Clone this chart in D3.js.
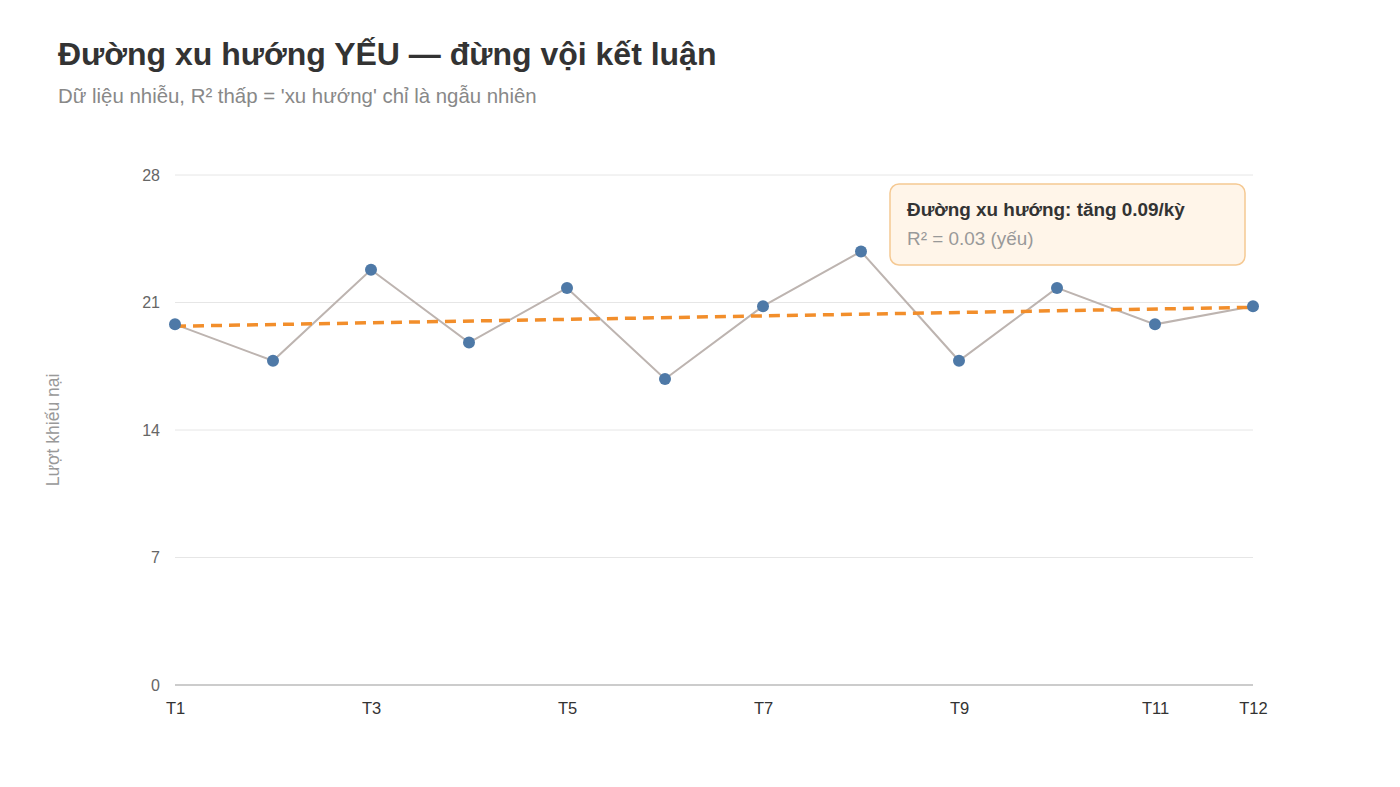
<!DOCTYPE html>
<html>
<head>
<meta charset="utf-8">
<script src="https://cdn.jsdelivr.net/npm/d3@7"></script>
<style>
  body { margin: 0; background: #fff; font-family: "Liberation Sans", Arial, sans-serif; }
</style>
</head>
<body>
<div id="chart"></div>
<script>
var periods = ["T1", "T2", "T3", "T4", "T5", "T6", "T7", "T8", "T9", "T10", "T11", "T12"];
var complaints = [19.8, 17.8, 22.8, 18.8, 21.8, 16.8, 20.8, 23.8, 17.8, 21.8, 19.8, 20.8];
var xTickLabels = ["T1", "T3", "T5", "T7", "T9", "T11", "T12"];
var yTicks = [0, 7, 14, 21, 28];

var width = 1400, height = 787;
var margin = {top: 175, right: 147, bottom: 102, left: 175};
var innerW = width - margin.left - margin.right,
    innerH = height - margin.top - margin.bottom;

var svg = d3.select("#chart")
    .append("svg")
        .attr("width", width)
        .attr("height", height);

svg.append("text")
    .attr("x", 58).attr("y", 65)
    .style("font-size", "32px").style("font-weight", "bold").attr("fill", "#333")
    .text("Đường xu hướng YẾU — đừng vội kết luận");

svg.append("text")
    .attr("x", 58).attr("y", 103)
    .style("font-size", "20.4px").attr("fill", "#888")
    .text("Dữ liệu nhiễu, R² thấp = 'xu hướng' chỉ là ngẫu nhiên");

var g = svg.append("g")
    .attr("transform", "translate(" + margin.left + "," + margin.top + ")");

var x = d3.scalePoint()
    .domain(periods)
    .range([0, innerW]);

var y = d3.scaleLinear()
    .domain([0, 28])
    .range([innerH, 0]);

// grid
g.selectAll(".grid")
    .data(yTicks.filter(function(d) { return d > 0; }))
    .enter()
    .append("line")
        .attr("x1", 0).attr("x2", innerW)
        .attr("y1", function(d) { return y(d); })
        .attr("y2", function(d) { return y(d); })
        .attr("stroke", "#e6e6e6").attr("stroke-width", 1);

g.append("line")
    .attr("x1", 0).attr("x2", innerW)
    .attr("y1", y(0)).attr("y2", y(0))
    .attr("stroke", "#cccccc").attr("stroke-width", 2);

// y axis labels
var yAxis = g.append("g")
    .call(d3.axisLeft(y).tickValues(yTicks).tickSize(0).tickPadding(15));
yAxis.select(".domain").remove();
yAxis.selectAll("text")
    .style("font-size", "16px").style("font-family", "Liberation Sans, Arial, sans-serif")
    .attr("fill", "#666");

// x axis labels
var xAxis = g.append("g")
    .attr("transform", "translate(0," + innerH + ")")
    .call(d3.axisBottom(x).tickValues(xTickLabels).tickSize(0).tickPadding(17));
xAxis.select(".domain").remove();
xAxis.selectAll("text")
    .style("font-size", "16.5px").style("font-family", "Liberation Sans, Arial, sans-serif")
    .attr("fill", "#333");

svg.append("text")
    .attr("transform", "translate(59," + (margin.top + innerH * 0.5 - 0) + ") rotate(-90)")
    .attr("text-anchor", "middle")
    .style("font-size", "17.5px").attr("fill", "#999")
    .text("Lượt khiếu nại");

// data line
var line = d3.line()
    .x(function(d, i) { return x(periods[i]); })
    .y(function(d) { return y(d); });

g.append("path")
    .datum(complaints)
    .attr("d", line)
    .attr("fill", "none")
    .attr("stroke", "#bdb4b0")
    .attr("stroke-width", 2);

// least squares trend
var n = complaints.length;
var mx = d3.mean(complaints, function(d, i) { return i + 1; });
var my = d3.mean(complaints);
var sxy = d3.sum(complaints, function(d, i) { return (i + 1 - mx) * (d - my); });
var sxx = d3.sum(complaints, function(d, i) { return (i + 1 - mx) * (i + 1 - mx); });
var slope = sxy / sxx;
var intercept = my - slope * mx;

g.append("line")
    .attr("x1", x(periods[0])).attr("y1", y(intercept + slope * 1))
    .attr("x2", x(periods[n - 1])).attr("y2", y(intercept + slope * n))
    .attr("stroke", "#f28e2b")
    .attr("stroke-width", 3.5)
    .attr("stroke-dasharray", "11,7");

g.selectAll(".dot")
    .data(complaints)
    .enter()
    .append("circle")
        .attr("cx", function(d, i) { return x(periods[i]); })
        .attr("cy", function(d) { return y(d); })
        .attr("r", 6)
        .attr("fill", "#4e79a7");

// annotation box
var note = svg.append("g").attr("transform", "translate(890,184)");
note.append("rect")
    .attr("width", 355).attr("height", 81)
    .attr("rx", 9)
    .attr("fill", "#fff5e9")
    .attr("stroke", "#f5c993")
    .attr("stroke-width", 1.5);
note.append("text")
    .attr("x", 17).attr("y", 32)
    .style("font-size", "18.9px").style("font-weight", "bold").attr("fill", "#333")
    .text("Đường xu hướng: tăng 0.09/kỳ");
note.append("text")
    .attr("x", 17).attr("y", 61)
    .style("font-size", "18.9px").attr("fill", "#999")
    .text("R² = 0.03 (yếu)");
</script>
</body>
</html>
